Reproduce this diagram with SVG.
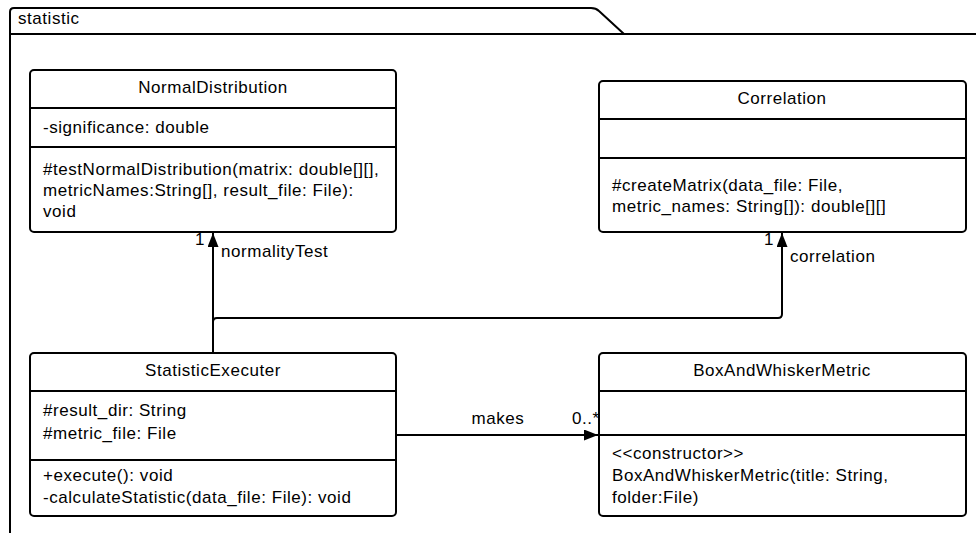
<svg xmlns="http://www.w3.org/2000/svg" width="976" height="533" viewBox="0 0 976 533">
<style>
text{font-family:"Liberation Sans",Arial,sans-serif;font-size:17px;letter-spacing:0.55px;fill:#000}
.c{text-anchor:middle}
.box{fill:#fff;stroke:#000;stroke-width:2}
.ln{stroke:#000;stroke-width:2;fill:none}
</style>
<defs>
<marker id="ah" markerWidth="14" markerHeight="11" refX="14" refY="5.5" orient="auto" markerUnits="userSpaceOnUse">
<path d="M0,0 L14,5.5 L0,11 Z" fill="#000"/>
</marker>
</defs>
<rect width="976" height="533" fill="#fff"/>
<g id="package">
<path class="ln" d="M10,533 V12 Q10,8 14,8 H591 Q596,8 599,11 L624,34"/>
<path class="ln" d="M10,34 H976"/>
<text x="18" y="24">statistic</text>
</g>
<g id="NormalDistribution">
<rect class="box" x="30" y="70" width="366" height="162" rx="4"/>
<path class="ln" d="M30,108 H396 M30,147 H396"/>
<text class="c" x="213" y="93">NormalDistribution</text>
<text x="43" y="133">-significance: double</text>
<text x="43" y="175">#testNormalDistribution(matrix: double[][],</text>
<text x="43" y="196">metricNames:String[], result_file: File):</text>
<text x="43" y="217">void</text>
</g>
<g id="Correlation">
<rect class="box" x="599" y="81" width="367" height="151" rx="4"/>
<path class="ln" d="M599,119 H966 M599,158 H966"/>
<text class="c" x="782" y="104">Correlation</text>
<text x="612" y="191">#createMatrix(data_file: File,</text>
<text x="612" y="212">metric_names: String[]): double[][]</text>
</g>
<g id="StatisticExecuter">
<rect class="box" x="30" y="353" width="366" height="163" rx="4"/>
<path class="ln" d="M30,391 H396 M30,460 H396"/>
<text class="c" x="213" y="376">StatisticExecuter</text>
<text x="43" y="416">#result_dir: String</text>
<text x="43" y="439">#metric_file: File</text>
<text x="43" y="481">+execute(): void</text>
<text x="43" y="503">-calculateStatistic(data_file: File): void</text>
</g>
<g id="BoxAndWhiskerMetric">
<rect class="box" x="599" y="353" width="367" height="163" rx="4"/>
<path class="ln" d="M599,391 H966 M599,435 H966"/>
<text class="c" x="782" y="376">BoxAndWhiskerMetric</text>
<text x="612" y="459">&lt;&lt;constructor&gt;&gt;</text>
<text x="612" y="481">BoxAndWhiskerMetric(title: String,</text>
<text x="612" y="503">folder:File)</text>
</g>
<g id="connectors">
<path class="ln" d="M213,353 V233" marker-end="url(#ah)"/>
<path class="ln" d="M213,322 Q213,318 217,318 H778 Q782,318 782,314 V233" marker-end="url(#ah)"/>
<path class="ln" d="M396,435 H598" marker-end="url(#ah)"/>
<text x="195" y="245">1</text>
<text x="221" y="257">normalityTest</text>
<text x="764" y="245">1</text>
<text x="790" y="262">correlation</text>
<text class="c" x="498" y="424">makes</text>
<text x="572" y="424">0..*</text>
</g>
</svg>
